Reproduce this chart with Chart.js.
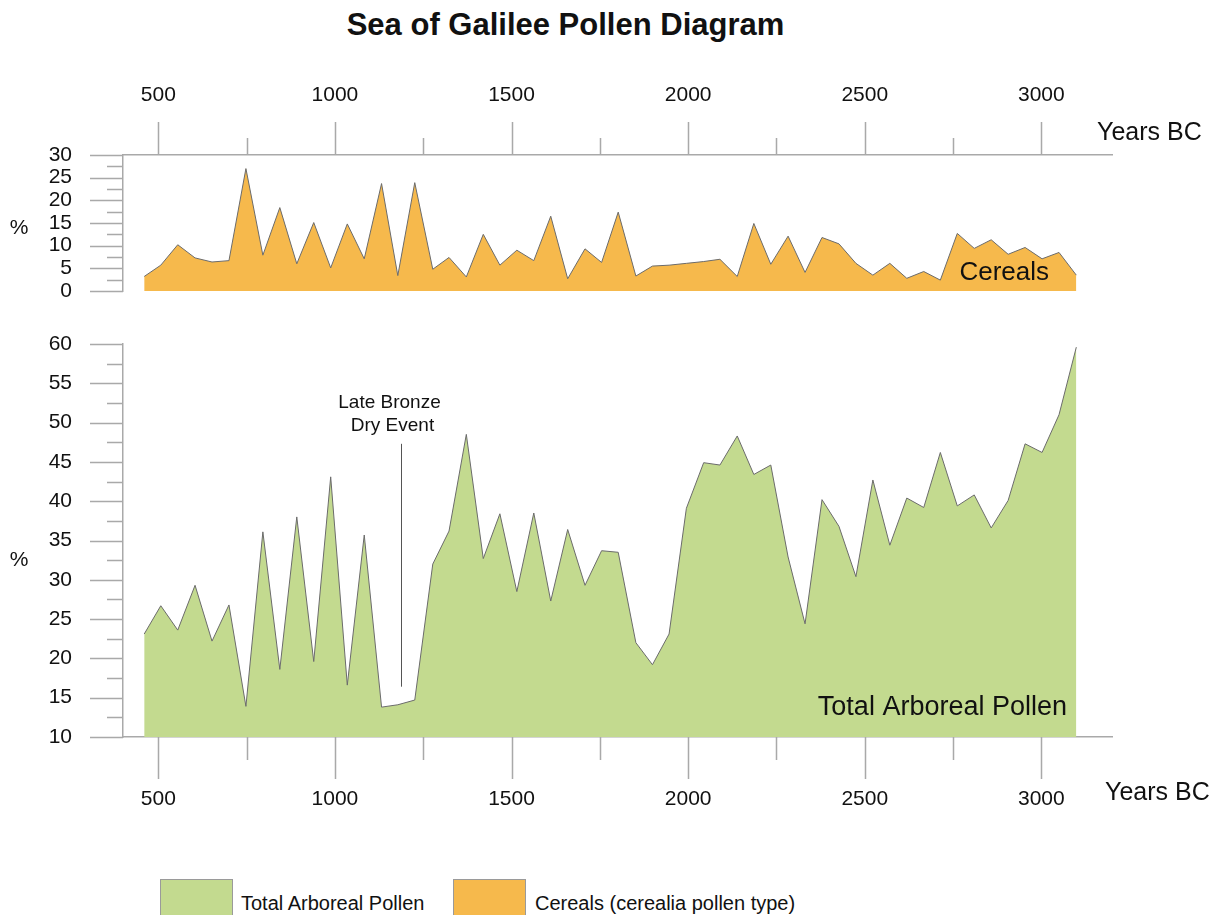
<!DOCTYPE html>
<html>
<head>
<meta charset="utf-8">
<script src="https://cdn.jsdelivr.net/npm/chart.js@4.4.0/dist/chart.umd.min.js"></script>
<style>
  body { margin: 0; background: #fff; width: 1231px; height: 915px; overflow: hidden; position: relative;
         font-family: "Liberation Sans", Arial, sans-serif; color: #111; }
  #title { position: absolute; left: 0; top: 10px; width: 1131px; text-align: center;
           font-weight: bold; font-size: 31px; line-height: 30px; }
  .wrap { position: absolute; left: 0; width: 1231px; }
  #upWrap { top: 0; height: 300px; }
  #loWrap { top: 310px; height: 520px; }
  .lg-box { position: absolute; top: 879px; width: 73px; height: 40px; border: 1px solid #9a9a9a; box-sizing: border-box; }
  .lg-txt { position: absolute; top: 891px; font-size: 20px; line-height: 24px; white-space: nowrap; }
</style>
</head>
<body>
<div id="title">Sea of Galilee Pollen Diagram</div>
<div class="wrap" id="upWrap"><canvas id="chartUp"></canvas></div>
<div class="wrap" id="loWrap"><canvas id="chartLo"></canvas></div>

<div class="lg-box" style="left:160px;background:#c3da8f"></div>
<div class="lg-txt" style="left:241px">Total Arboreal Pollen</div>
<div class="lg-box" style="left:453px;background:#f6b94c"></div>
<div class="lg-txt" style="left:535px">Cereals (cerealia pollen type)</div>

<script>
// sample ages, years BC
const years = [460, 507, 555, 604, 652, 700, 748, 796, 844, 892,
  940, 988, 1035, 1083, 1132, 1178, 1226, 1277, 1323, 1372,
  1420, 1467, 1515, 1563, 1611, 1659, 1708, 1755, 1802, 1852,
  1899, 1946, 1995, 2044, 2090, 2139, 2186, 2234, 2283, 2331,
  2379, 2427, 2475, 2523, 2571, 2619, 2667, 2714, 2762, 2810,
  2858, 2906, 2954, 3002, 3050, 3099];

// Total Arboreal Pollen (%)
const arboreal = [23.1, 26.7, 23.6, 29.3, 22.2, 26.8, 13.9, 36.1, 18.6, 38.0,
  19.6, 43.1, 16.6, 35.7, 13.8, 14.1, 14.7, 32.0, 36.2, 48.5,
  32.7, 38.4, 28.5, 38.5, 27.3, 36.4, 29.3, 33.7, 33.5, 22.0,
  19.2, 23.1, 39.1, 44.9, 44.6, 48.3, 43.4, 44.6, 32.9, 24.4,
  40.2, 36.8, 30.4, 42.7, 34.4, 40.4, 39.2, 46.2, 39.4, 40.8,
  36.6, 40.1, 47.3, 46.2, 51.0, 59.6];

// Cereals (%)
const cereals = [3.2, 5.7, 10.2, 7.3, 6.4, 6.7, 27.0, 7.9, 18.4, 6.0,
  15.1, 5.1, 14.8, 7.1, 23.7, 3.4, 23.9, 4.8, 7.4, 3.1,
  12.5, 5.7, 9.0, 6.7, 16.5, 2.7, 9.3, 6.3, 17.4, 3.3,
  5.5, 5.7, 6.1, 6.5, 7.0, 3.2, 14.9, 5.9, 12.1, 4.1,
  11.8, 10.4, 6.1, 3.5, 6.1, 2.8, 4.3, 2.4, 12.7, 9.4,
  11.3, 8.1, 9.6, 7.1, 8.5, 3.5];

const xTicks = [500, 750, 1000, 1250, 1500, 1750, 2000, 2250, 2500, 2750, 3000];
const yUpTicks = [0, 2.5, 5, 7.5, 10, 12.5, 15, 17.5, 20, 22.5, 25, 27.5, 30];
const yLoTicks = [10, 12.5, 15, 17.5, 20, 22.5, 25, 27.5, 30, 32.5, 35, 37.5, 40, 42.5, 45, 47.5, 50, 52.5, 55, 57.5, 60];

// Late Bronze dry event marker
const dryEvent = { year: 1187, from: 16.4, to: 47.3, lines: ['Late Bronze', 'Dry Event'] };

const GREEN = '#c3da8f', ORANGE = '#f6b94c', AXIS = '#a9a9a9', INK = '#111';
const FONT = '"Liberation Sans", Arial, sans-serif';

Chart.defaults.font.family = FONT;
Chart.defaults.color = INK;

const pts = vals => years.map((y, i) => ({ x: y, y: vals[i] }));
const setTicks = arr => s => { s.ticks = arr.map(v => ({ value: v })); };
const every5 = v => (v % 5 === 0 ? v : '');
const every500 = v => (v % 500 === 0 ? v : '');
// fixed axis boxes, no label overhang pushed into the layout
const fixBox = (w, h) => s => {
  if (w != null) s.width = w;
  if (h != null) s.height = h;
  s.paddingTop = s.paddingBottom = s.paddingLeft = s.paddingRight = 0;
};

// own tick marks: long on labelled values, short in between
const tickMarks = {
  id: 'tickMarks',
  afterDraw(chart, args, o) {
    const { ctx, scales: { x, y } } = chart;
    ctx.save();
    ctx.strokeStyle = AXIS;
    ctx.lineWidth = 1.5;
    ctx.beginPath();
    const top = x.position === 'top';
    const y0 = top ? x.bottom : x.top;
    x.ticks.forEach(t => {
      const px = Math.round(x.getPixelForValue(t.value)) + 0.5;
      const len = t.value % 500 === 0 ? o.xMajor : o.xMinor;
      ctx.moveTo(px, y0);
      ctx.lineTo(px, top ? y0 - len : y0 + len);
    });
    y.ticks.forEach(t => {
      const py = Math.round(y.getPixelForValue(t.value)) + 0.5;
      const len = t.value % 5 === 0 ? 33 : 16;
      ctx.moveTo(y.right, py);
      ctx.lineTo(y.right - len, py);
    });
    ctx.stroke();
    ctx.restore();
  }
};

// free text and the event marker
const extras = {
  id: 'extras',
  afterDraw(chart, args, o) {
    if (o.draw) o.draw(chart, chart.ctx);
  }
};

function txt(ctx, s, x, y, size, align) {
  ctx.font = size + 'px ' + FONT;
  ctx.fillStyle = INK;
  ctx.textAlign = align || 'left';
  ctx.textBaseline = 'middle';
  ctx.fillText(s, x, y);
}

const tickFont = { size: 21 };

new Chart(document.getElementById('chartUp'), {
  type: 'line',
  data: {
    datasets: [{
      label: 'Cereals',
      data: pts(cereals),
      borderColor: '#6b6b6b',
      borderWidth: 1,
      backgroundColor: ORANGE,
      fill: 'origin',
      pointRadius: 0,
      tension: 0
    }]
  },
  options: {
    responsive: true, maintainAspectRatio: false, animation: false, devicePixelRatio: 1,
    layout: { padding: { left: 0, top: 0, right: 119, bottom: 9 } },
    plugins: {
      legend: { display: false }, tooltip: { enabled: false },
      tickMarks: { xMajor: 33, xMinor: 17 },
      extras: {
        draw(chart, ctx) {
          const a = chart.chartArea;
          txt(ctx, '%', 19, 228, 21, 'center');
          txt(ctx, 'Years BC', 1097, 133, 25);
          txt(ctx, 'Cereals', a.right - 63, a.bottom - 18, 26, 'right');
        }
      }
    },
    scales: {
      x: {
        type: 'linear', position: 'top', min: 400, max: 3200,
        afterBuildTicks: setTicks(xTicks),
        afterFit: fixBox(null, 155),
        grid: { display: false, drawTicks: false },
        border: { display: true, color: AXIS, width: 1.5 },
        ticks: { callback: every500, font: tickFont, color: INK, padding: 47, maxRotation: 0, autoSkip: false }
      },
      y: {
        min: 0, max: 30,
        afterBuildTicks: setTicks(yUpTicks),
        afterFit: fixBox(123, null),
        grid: { display: false, drawTicks: false },
        border: { display: true, color: AXIS, width: 1.5 },
        ticks: { callback: every5, font: tickFont, color: INK, padding: 51, autoSkip: false }
      }
    }
  },
  plugins: [tickMarks, extras]
});

new Chart(document.getElementById('chartLo'), {
  type: 'line',
  data: {
    datasets: [{
      label: 'Total Arboreal Pollen',
      data: pts(arboreal),
      borderColor: '#6b6b6b',
      borderWidth: 1,
      backgroundColor: GREEN,
      fill: 'start',
      pointRadius: 0,
      tension: 0
    }]
  },
  options: {
    responsive: true, maintainAspectRatio: false, animation: false, devicePixelRatio: 1,
    layout: { padding: { left: 0, top: 34, right: 119, bottom: 0 } },
    plugins: {
      legend: { display: false }, tooltip: { enabled: false },
      tickMarks: { xMajor: 42, xMinor: 23 },
      extras: {
        draw(chart, ctx) {
          const a = chart.chartArea, x = chart.scales.x, y = chart.scales.y;
          txt(ctx, '%', 19, 250, 21, 'center');
          txt(ctx, 'Years BC', 1105, 483, 25);
          txt(ctx, 'Total Arboreal Pollen', a.right - 45, a.bottom - 29, 27, 'right');
          const px = Math.round(x.getPixelForValue(dryEvent.year)) + 0.5;
          ctx.save();
          ctx.strokeStyle = '#555';
          ctx.lineWidth = 1;
          ctx.beginPath();
          ctx.moveTo(px, y.getPixelForValue(dryEvent.to));
          ctx.lineTo(px, y.getPixelForValue(dryEvent.from));
          ctx.stroke();
          ctx.restore();
          const top = y.getPixelForValue(dryEvent.to);
          txt(ctx, dryEvent.lines[0], px - 12, top - 41, 19, 'center');
          txt(ctx, dryEvent.lines[1], px - 9, top - 18, 19, 'center');
        }
      }
    },
    scales: {
      x: {
        type: 'linear', position: 'bottom', min: 400, max: 3200,
        afterBuildTicks: setTicks(xTicks),
        afterFit: fixBox(null, 93),
        grid: { display: false, drawTicks: false },
        border: { display: true, color: AXIS, width: 1.5 },
        ticks: { callback: every500, font: tickFont, color: INK, padding: 50, maxRotation: 0, autoSkip: false }
      },
      y: {
        min: 10, max: 60,
        afterBuildTicks: setTicks(yLoTicks),
        afterFit: fixBox(123, null),
        grid: { display: false, drawTicks: false },
        border: { display: true, color: AXIS, width: 1.5 },
        ticks: { callback: every5, font: tickFont, color: INK, padding: 51, autoSkip: false }
      }
    }
  },
  plugins: [tickMarks, extras]
});
</script>
</body>
</html>
